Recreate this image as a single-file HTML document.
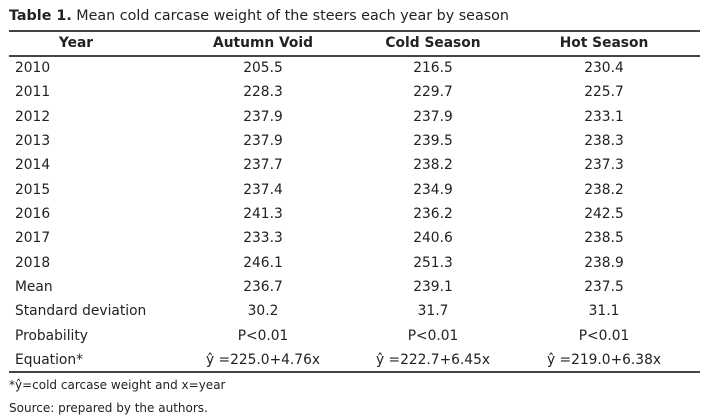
<!DOCTYPE html>
<html><head><style>
body{margin:0;width:709px;height:416px;background:#fff;font-family:"DejaVu Sans","Liberation Sans",sans-serif;color:#222;position:relative;overflow:hidden}
.t{position:absolute;white-space:nowrap;font-size:13.8px;line-height:16px}
.c{transform:translateX(-50%)}
.b{font-weight:bold}
.l{position:absolute;left:9px;width:691px;background:#444}
</style></head><body>
<div class="t" style="left:9px;top:8px;font-size:14.3px"><b>Table 1.</b> Mean cold carcase weight of the steers each year by season</div>
<div class="l" style="top:30px;height:2px"></div>
<div class="t b c" style="left:76px;top:35px">Year</div>
<div class="t b c" style="left:263px;top:35px">Autumn Void</div>
<div class="t b c" style="left:433px;top:35px">Cold Season</div>
<div class="t b c" style="left:604px;top:35px">Hot Season</div>
<div class="l" style="top:55px;height:2px"></div>
<div class="l" style="top:371px;height:2px"></div>
<div id="rows"></div>
<div class="t" style="left:9px;top:377px;font-size:12px">*ŷ=cold carcase weight and x=year</div>
<div class="t" style="left:9px;top:400px;font-size:12px">Source: prepared by the authors.</div>
<script>
var d=[["2010","205.5","216.5","230.4"],["2011","228.3","229.7","225.7"],["2012","237.9","237.9","233.1"],["2013","237.9","239.5","238.3"],["2014","237.7","238.2","237.3"],["2015","237.4","234.9","238.2"],["2016","241.3","236.2","242.5"],["2017","233.3","240.6","238.5"],["2018","246.1","251.3","238.9"],["Mean","236.7","239.1","237.5"],["Standard deviation","30.2","31.7","31.1"],["Probability","P<0.01","P<0.01","P<0.01"],["Equation*","ŷ =225.0+4.76x","ŷ =222.7+6.45x","ŷ =219.0+6.38x"]];
var h="",xs=[263,433,604];
d.forEach(function(r,i){var y=60+i*24.33;
h+='<div class="t" style="left:15px;top:'+y+'px">'+r[0]+'</div>';
for(var j=1;j<4;j++)h+='<div class="t c" style="left:'+xs[j-1]+'px;top:'+y+'px">'+r[j].replace("<","&lt;")+'</div>';});
document.getElementById("rows").innerHTML=h;
</script>
</body></html>
